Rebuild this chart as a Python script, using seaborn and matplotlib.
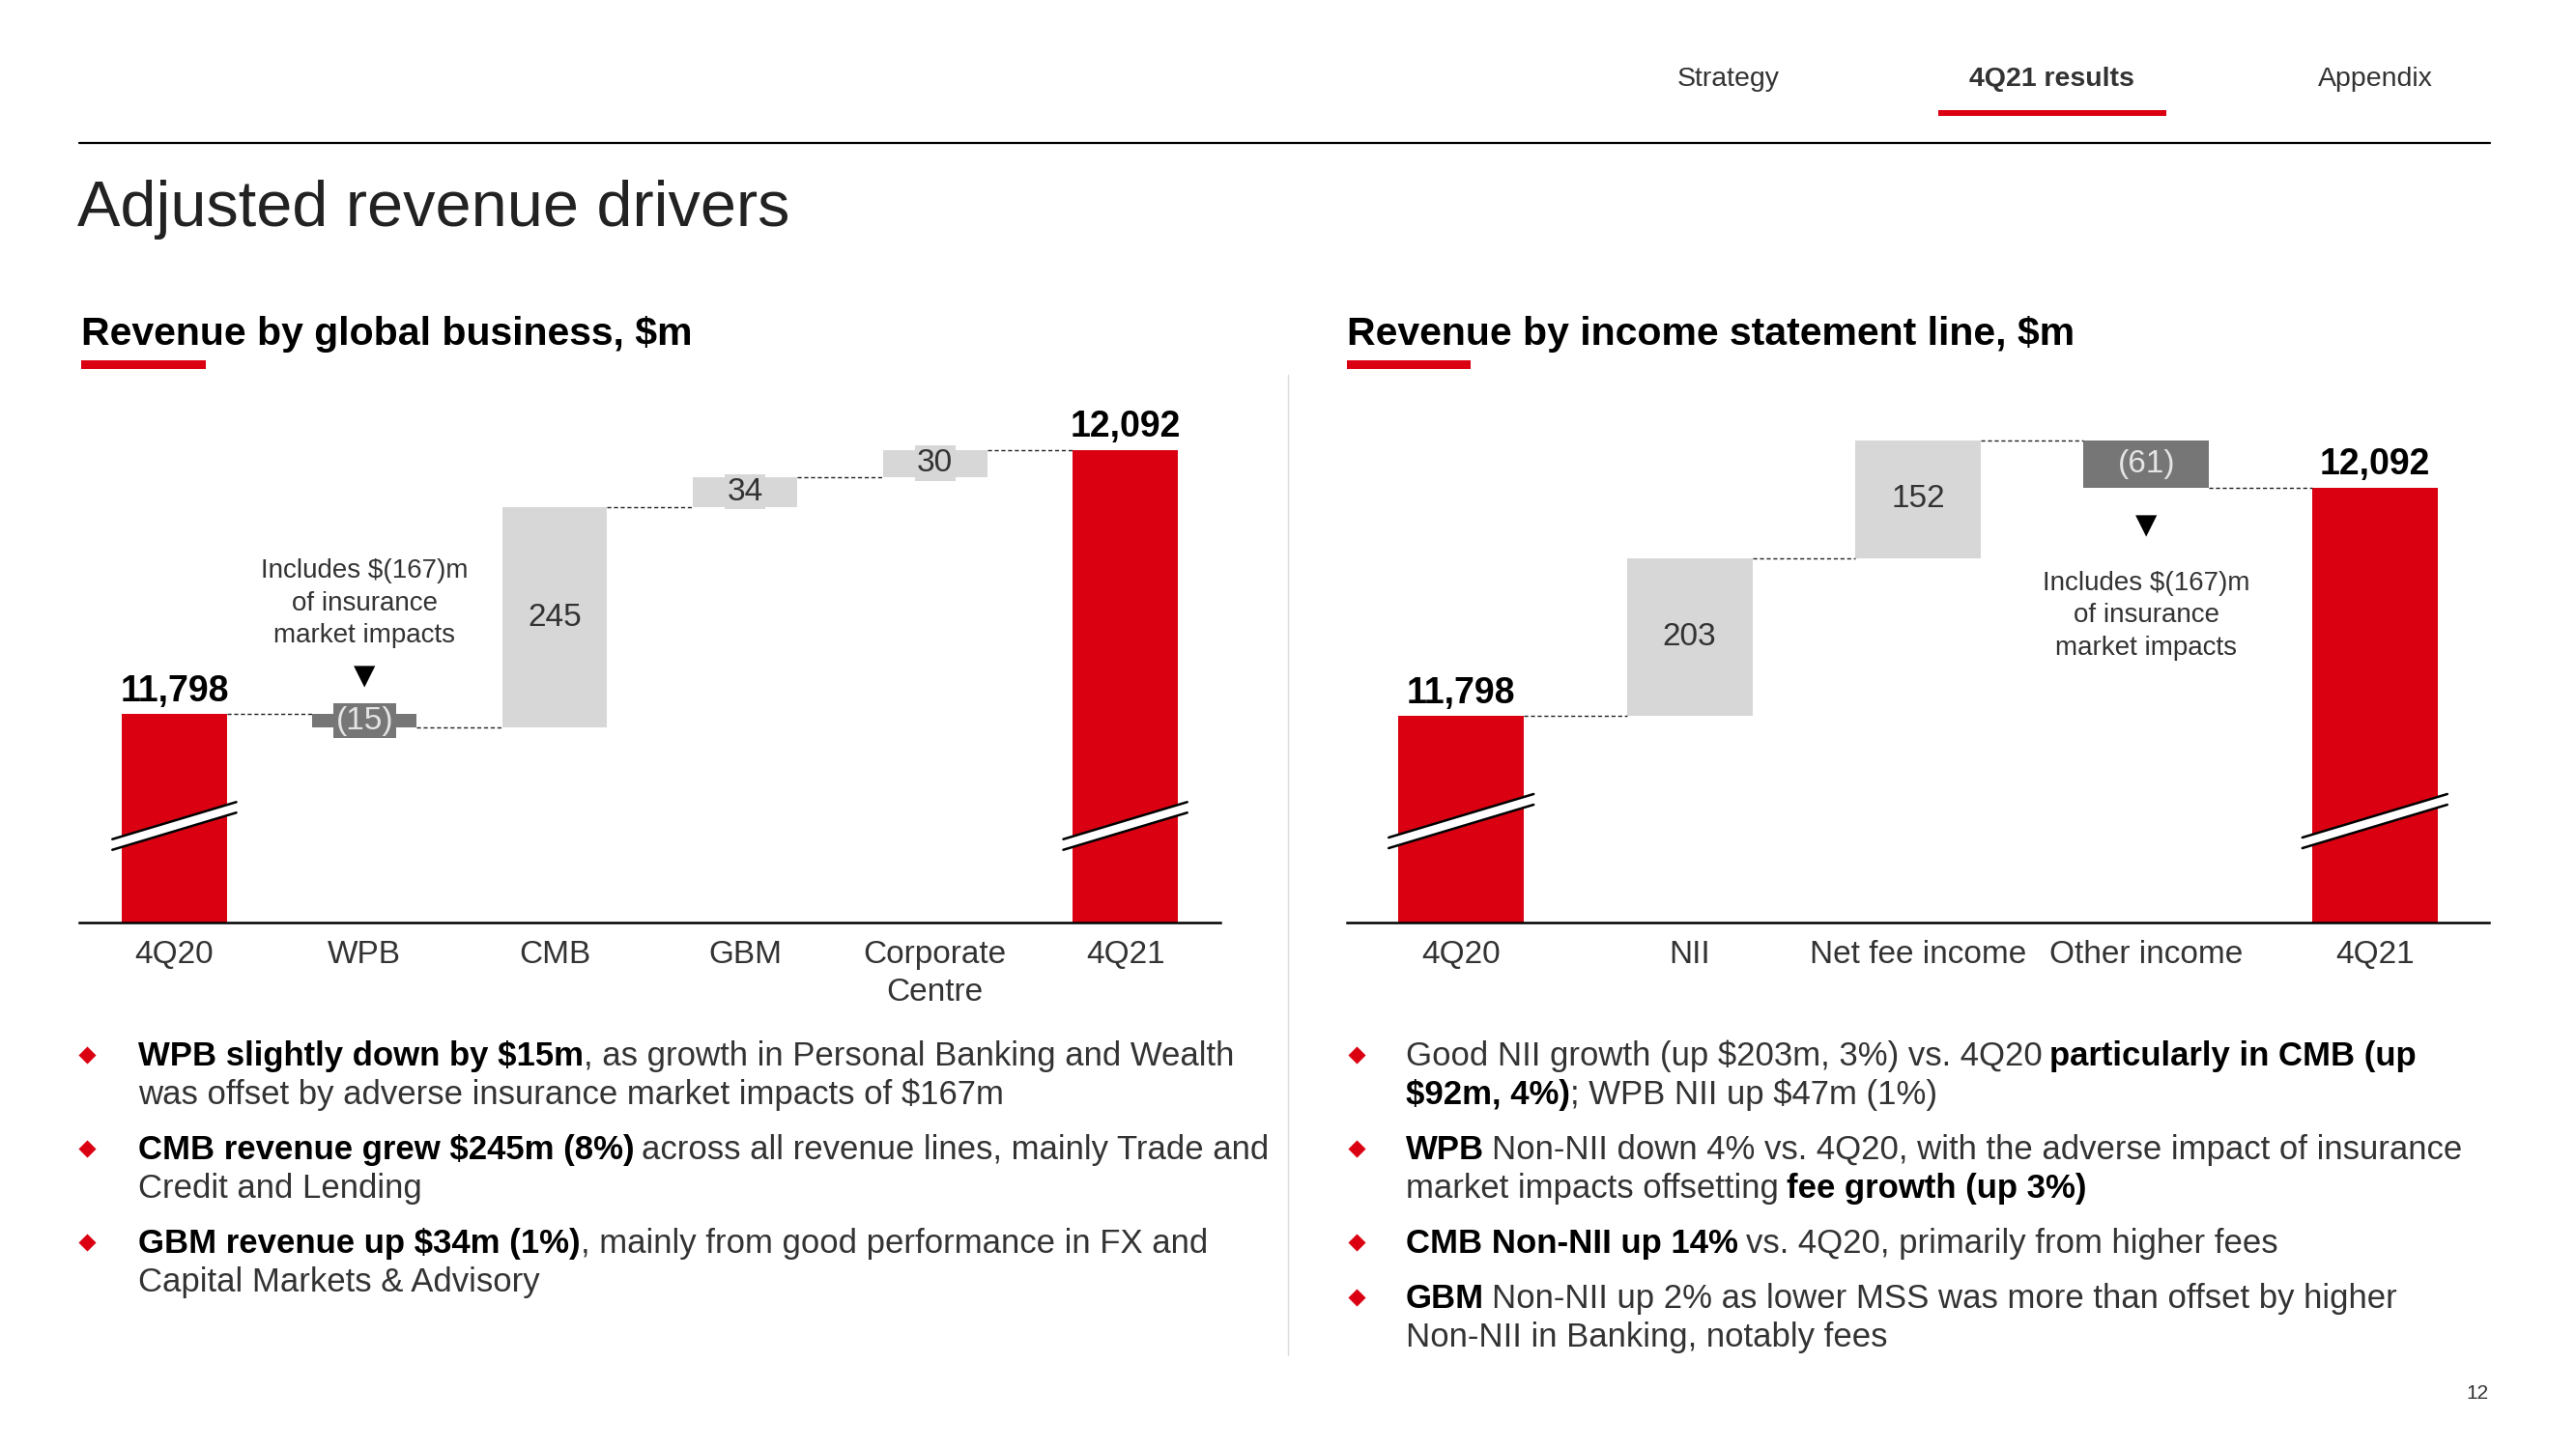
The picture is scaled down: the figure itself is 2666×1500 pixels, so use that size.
import pandas as pd
import seaborn as sns
import matplotlib.pyplot as plt

sns.set_style("white")
plt.rcParams['font.family'] = ['Liberation Sans Narrow', 'Liberation Sans', 'DejaVu Sans']

RED = '#DB0011'
LIGHT = '#D7D7D7'
DARK = '#767676'
INK = '#333333'

# revenue by global business, $m
biz_cats = ['4Q20', 'WPB', 'CMB', 'GBM', 'Corporate\nCentre', '4Q21']
biz_vals = [11798, -15, 245, 34, 30, 12092]
biz_labels = ['11,798', '(15)', '245', '34', '30', '12,092']

# revenue by income statement line, $m
line_cats = ['4Q20', 'NII', 'Net fee income', 'Other income', '4Q21']
line_vals = [11798, 203, 152, -61, 12092]
line_labels = ['11,798', '203', '152', '(61)', '12,092']

note = 'Includes $(167)m\nof insurance\nmarket impacts'

nav_items = ['Strategy', '4Q21 results', 'Appendix']

left_bullets = [
    [[('WPB slightly down by $15m', True), (', as growth in Personal Banking and Wealth', False)],
     [('was offset by adverse insurance market impacts of $167m', False)]],
    [[('CMB revenue grew $245m (8%)', True), (' across all revenue lines, mainly Trade and', False)],
     [('Credit and Lending', False)]],
    [[('GBM revenue up $34m (1%)', True), (', mainly from good performance in FX and', False)],
     [('Capital Markets & Advisory', False)]],
]
right_bullets = [
    [[('Good NII growth (up $203m, 3%) vs. 4Q20', False), (' particularly in CMB (up', True)],
     [('$92m, 4%)', True), ('; WPB NII up $47m (1%)', False)]],
    [[('WPB', True), (' Non-NII down 4% vs. 4Q20, with the adverse impact of insurance', False)],
     [('market impacts offsetting', False), (' fee growth (up 3%)', True)]],
    [[('CMB Non-NII up 14%', True), (' vs. 4Q20, primarily from higher fees', False)]],
    [[('GBM', True), (' Non-NII up 2% as lower MSS was more than offset by higher', False)],
     [('Non-NII in Banking, notably fees', False)]],
]


def esc(s):
    return s.replace('$', r'\$')


W, H = 2666, 1500
fig = plt.figure(figsize=(W / 100, H / 100), dpi=100)
bg = fig.add_axes([0, 0, 1, 1], zorder=0)
bg.set_xlim(0, W)
bg.set_ylim(H, 0)
bg.axis('off')


def chart_axes(x0, x1, ytop, ybase):
    ax = fig.add_axes([x0 / W, 1 - ybase / H, (x1 - x0) / W, (ybase - ytop) / H], zorder=1)
    ax.set_facecolor('none')
    return ax


def waterfall(ax, cats, vals, labels, ylim, bar_w, break_px):
    n = len(vals)
    bottoms, heights, colors, levels = [], [], [], []
    run = vals[0]
    for i, v in enumerate(vals):
        if i == 0 or i == n - 1:
            bottoms.append(0)
            heights.append(v)
            colors.append(RED)
            levels.append(v)
        else:
            bottoms.append(run)
            heights.append(v)
            colors.append(LIGHT if v > 0 else DARK)
            run += v
            levels.append(run)
    df = pd.DataFrame({'cat': cats, 'h': heights})
    sns.barplot(data=df, x='cat', y='h', bottom=bottoms, color=RED, saturation=1,
                facecolor=colors, edgecolor='none', linewidth=0, width=bar_w,
                errorbar=None, ax=ax)
    ax.set_xlim(-0.5, n - 0.5)
    ax.set_ylim(*ylim)
    ax.set_xlabel('')
    ax.set_ylabel('')
    ax.set_yticks([])
    for s in ['top', 'left', 'right']:
        ax.spines[s].set_visible(False)
    ax.spines['bottom'].set_color('black')
    ax.spines['bottom'].set_linewidth(1.8)
    ax.tick_params(axis='x', length=0, pad=13, labelsize=24, labelcolor=INK)
    for t in ax.get_xticklabels():
        t.set_linespacing(1.35)

    # connectors
    for i in range(n - 1):
        ax.plot([i + bar_w / 2, i + 1 - bar_w / 2], [levels[i], levels[i]],
                color='#222222', lw=1.0, dashes=(3, 2), zorder=2)

    # labels
    for i in range(n):
        if colors[i] == RED:
            ax.annotate(labels[i], (i, heights[i]), xytext=(0, 4), textcoords='offset points',
                        ha='center', va='bottom', fontsize=27, fontweight='bold', color='black')
        else:
            tc = '#E4E4E4' if colors[i] == DARK else INK
            ax.text(i, bottoms[i] + heights[i] / 2, labels[i], ha='center', va='center',
                    fontsize=24, color=tc, zorder=4,
                    bbox=dict(boxstyle='square,pad=0.08', fc=colors[i], ec='none'))

    # axis-break marks on the total bars
    inv = ax.transData.inverted()
    for i in [0, n - 1]:
        cx, cy = ax.transData.transform((i, ylim[0]))
        cy += break_px
        half = ax.transData.transform((i + bar_w / 2, ylim[0]))[0] - cx + 10
        slope, gap = 0.30, 11
        pts = [(cx - half, cy - slope * half - gap / 2), (cx + half, cy + slope * half - gap / 2),
               (cx + half, cy + slope * half + gap / 2), (cx - half, cy - slope * half + gap / 2)]
        d = inv.transform(pts)
        ax.fill(d[:, 0], d[:, 1], color='white', zorder=3, clip_on=False)
        ax.plot(d[:2, 0], d[:2, 1], color='black', lw=1.8, zorder=3, clip_on=False)
        ax.plot(d[2:, 0], d[2:, 1], color='black', lw=1.8, zorder=3, clip_on=False)


ax1 = chart_axes(82, 1263, 380, 955)
waterfall(ax1, biz_cats, biz_vals, biz_labels, (11566, 12184), 0.55, 100)
ax1.text(1, 11921, esc(note), ha='center', va='center', fontsize=20, color=INK, linespacing=1.38)
ax1.text(1, 11840, '\u25BC', ha='center', va='center', fontsize=21, color='black',
         family=['DejaVu Sans'])

ax2 = chart_axes(1394, 2576, 380, 955)
waterfall(ax2, line_cats, line_vals, line_labels, (11532, 12247), 0.55, 105)
ax2.text(3, 11927, esc(note), ha='center', va='center', fontsize=20, color=INK, linespacing=1.38)
ax2.text(3, 12042, '\u25BC', ha='center', va='center', fontsize=21, color='black',
         family=['DejaVu Sans'])

# header
for name, xc in zip(nav_items, [1789, 2123, 2458]):
    bg.text(xc, 82, name, ha='center', va='center', fontsize=20.5, color=INK,
            fontweight='bold' if name == '4Q21 results' else 'normal')
bg.fill_between([2006, 2242], 114, 120, color=RED, lw=0)
bg.plot([82, 2577], [148, 148], color='black', lw=1.6)
bg.text(80, 234, 'Adjusted revenue drivers', fontsize=48, color='#222222', va='baseline')

bg.text(84, 357, esc('Revenue by global business, $m'), fontsize=29.5, fontweight='bold',
        color='black', va='baseline')
bg.fill_between([84, 213], 373, 382, color=RED, lw=0)
bg.text(1394, 357, esc('Revenue by income statement line, $m'), fontsize=29.5,
        fontweight='bold', color='black', va='baseline')
bg.fill_between([1394, 1522], 373, 382, color=RED, lw=0)
bg.plot([1333, 1333], [388, 1403], color='#DDDDDD', lw=1)


def rich_line(x, y, segs, size=25):
    prev = None
    for s, bold in segs:
        gap = 0
        if s.startswith(' '):
            s = s[1:]
            gap = 5.5
        w = 'bold' if bold else 'normal'
        col = 'black' if bold else INK
        if prev is None:
            prev = bg.text(x, y, esc(s), fontsize=size, fontweight=w, color=col, va='baseline')
        else:
            prev = bg.annotate(esc(s), xy=(1, 0), xycoords=prev, xytext=(gap, 0),
                               textcoords='offset points', ha='left', va='bottom',
                               fontsize=size, fontweight=w, color=col)


def bullets(x_dot, x_text, y0, items, line_h=40, para_gap=17):
    y = y0
    for para in items:
        bg.scatter([x_dot], [y - 11], marker='D', s=85, color=RED, lw=0)
        for ln in para:
            rich_line(x_text, y, ln)
            y += line_h
        y += para_gap


bullets(90, 143, 1103, left_bullets)
bullets(1404, 1455, 1103, right_bullets)

bg.text(2564, 1442, '12', ha='center', va='center', fontsize=15, color=INK)

fig.savefig('out.png', dpi=100)
